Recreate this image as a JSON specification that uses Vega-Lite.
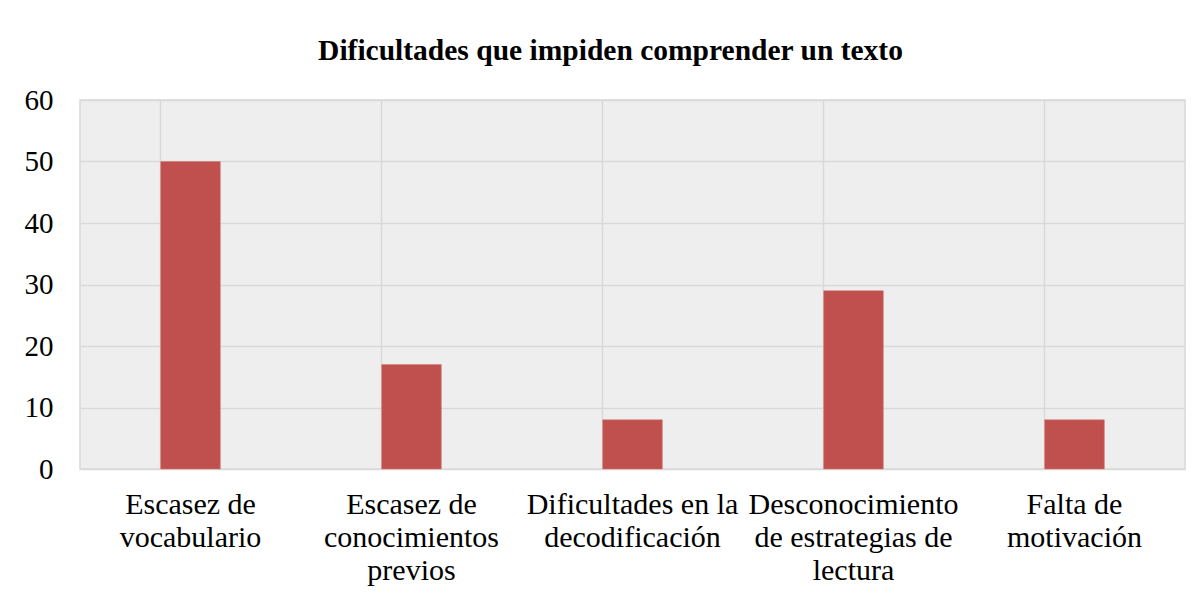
{
  "$schema": "https://vega.github.io/schema/vega-lite/v6.json",
  "width": 1105,
  "height": 369,
  "autosize": {"type": "none"},
  "padding": {"left": 80, "top": 100, "right": 15, "bottom": 129},
  "background": "white",
  "title": {
    "text": "Dificultades que impiden comprender un texto",
    "font": "'Times New Roman', 'Liberation Serif', 'DejaVu Serif', serif",
    "fontSize": 29.5,
    "fontWeight": "bold",
    "color": "#000000",
    "anchor": "middle",
    "dx": -22,
    "offset": 20
  },
  "data": {
    "values": [
      {"dificultad": "Escasez de vocabulario", "valor": 50},
      {"dificultad": "Escasez de conocimientos previos", "valor": 17},
      {"dificultad": "Dificultades en la decodificación", "valor": 8},
      {"dificultad": "Desconocimiento de estrategias de lectura", "valor": 29},
      {"dificultad": "Falta de motivación", "valor": 8}
    ]
  },
  "mark": {"type": "bar", "color": "#c0504d", "stroke": "#d27a77", "strokeWidth": 0.5},
  "encoding": {
    "x": {
      "field": "dificultad",
      "type": "nominal",
      "sort": null,
      "scale": {"paddingInner": 0.73, "paddingOuter": 0.365},
      "axis": {
        "title": null,
        "labelAngle": 0,
        "labelFont": "'Times New Roman', 'Liberation Serif', 'DejaVu Serif', serif",
        "labelFontSize": 30,
        "labelColor": "#000000",
        "labelPadding": 20,
        "labelLineHeight": 33,
        "labelLimit": 300,
        "labelBaseline": "top",
        "ticks": false,
        "domain": false,
        "grid": true,
        "bandPosition": 0,
        "gridColor": "#d9d9d9",
        "gridWidth": 1.5,
        "labelExpr": "datum.value == 'Escasez de vocabulario' ? ['Escasez de', 'vocabulario'] : datum.value == 'Escasez de conocimientos previos' ? ['Escasez de', 'conocimientos', 'previos'] : datum.value == 'Dificultades en la decodificación' ? ['Dificultades en la', 'decodificación'] : datum.value == 'Desconocimiento de estrategias de lectura' ? ['Desconocimiento', 'de estrategias de', 'lectura'] : ['Falta de', 'motivación']"
      }
    },
    "y": {
      "field": "valor",
      "type": "quantitative",
      "scale": {"domain": [0, 60], "nice": false},
      "axis": {
        "title": null,
        "values": [0, 10, 20, 30, 40, 50, 60],
        "labelFont": "'Times New Roman', 'Liberation Serif', 'DejaVu Serif', serif",
        "labelFontSize": 29,
        "labelColor": "#000000",
        "labelPadding": 27,
        "ticks": false,
        "domain": false,
        "gridColor": "#d9d9d9",
        "gridWidth": 1.5
      }
    }
  },
  "config": {
    "view": {"fill": "#eeeeee", "stroke": "#d9d9d9", "strokeWidth": 1.5}
  }
}
